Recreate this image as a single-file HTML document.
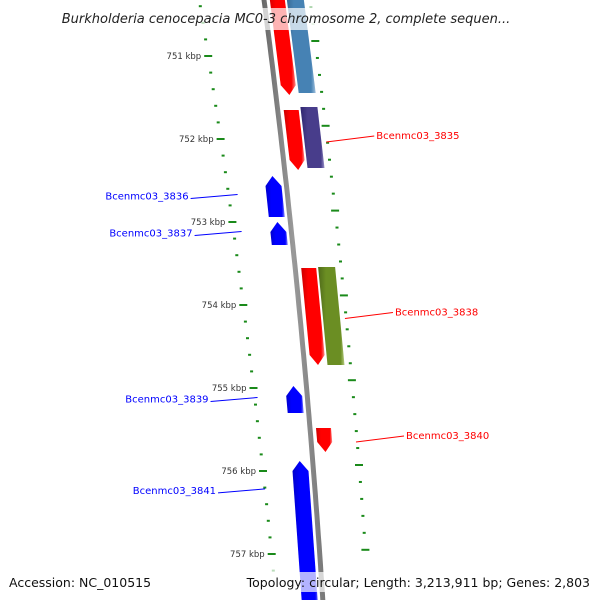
<!DOCTYPE html>
<html><head><meta charset="utf-8"><style>
html,body{margin:0;padding:0;background:#fff;}
svg{display:block;font-family:"DejaVu Sans","Liberation Sans",sans-serif;}
</style></head><body>
<svg id="map" width="600" height="600" viewBox="0 0 600 600" xmlns="http://www.w3.org/2000/svg">
<defs>
<linearGradient id="gr" x1="0" x2="1" y1="0" y2="0"><stop offset="0" stop-color="#c00"/><stop offset="0.3" stop-color="#f00"/><stop offset="0.85" stop-color="#f00"/><stop offset="1" stop-color="#f88"/></linearGradient>
<linearGradient id="gb" x1="0" x2="1" y1="0" y2="0"><stop offset="0" stop-color="#00c"/><stop offset="0.3" stop-color="#00f"/><stop offset="0.85" stop-color="#00f"/><stop offset="1" stop-color="#88f"/></linearGradient>
<linearGradient id="gs" x1="0" x2="1" y1="0" y2="0"><stop offset="0" stop-color="#36648b"/><stop offset="0.3" stop-color="#4682b4"/><stop offset="0.85" stop-color="#4682b4"/><stop offset="1" stop-color="#a0c0dd"/></linearGradient>
<linearGradient id="gp" x1="0" x2="1" y1="0" y2="0"><stop offset="0" stop-color="#2f2770"/><stop offset="0.3" stop-color="#483d8b"/><stop offset="0.85" stop-color="#483d8b"/><stop offset="1" stop-color="#9a92c8"/></linearGradient>
<linearGradient id="go" x1="0" x2="1" y1="0" y2="0"><stop offset="0" stop-color="#4f6a1a"/><stop offset="0.3" stop-color="#6b8e23"/><stop offset="0.85" stop-color="#6b8e23"/><stop offset="1" stop-color="#b5cc80"/></linearGradient>
<linearGradient id="gg" x1="0" x2="1" y1="0" y2="0"><stop offset="0" stop-color="#666"/><stop offset="0.5" stop-color="#999"/><stop offset="1" stop-color="#777"/></linearGradient>
</defs>
<g id="ticks"></g>
<g id="backbone"></g>
<g id="genes"></g>
<g id="labels"></g>
<rect x="55" y="8" width="460" height="22" fill="#fff" fill-opacity="0.7"/>
<text x="286" y="23" text-anchor="middle" font-size="13" font-style="italic" fill="#222">Burkholderia cenocepacia MC0-3 chromosome 2, complete sequen...</text>
<rect x="255" y="572" width="340" height="20" fill="#fff" fill-opacity="0.7"/>
<text x="9" y="587" font-size="12.5" fill="#111">Accession: NC_010515</text>
<text x="590" y="587" text-anchor="end" font-size="12.5" fill="#111">Topology: circular; Length: 3,213,911 bp; Genes: 2,803</text>
</svg>
<script>
// data (kbp)
const majorTicks = [751, 752, 753, 754, 755, 756, 757];
const tickLabels = ["751 kbp","752 kbp","753 kbp","754 kbp","755 kbp","756 kbp","757 kbp"];
const geneNames = ["g1","Bcenmc03_3835","Bcenmc03_3836","Bcenmc03_3837","Bcenmc03_3838","Bcenmc03_3839","Bcenmc03_3840","Bcenmc03_3841"];
const geneStarts = [750.10, 751.651, 752.446, 753.000, 753.554, 754.976, 755.482, 755.880];
const geneEnds   = [751.470, 752.373, 752.940, 753.277, 754.723, 755.301, 755.771, 757.80];
const geneStrand = [1, 1, -1, -1, 1, -1, 1, -1];
const cogStarts = [750.10, 751.614, 753.542];
const cogEnds   = [751.446, 752.349, 754.723];
const cogColors = ["gs", "gp", "go"];
const labeled = [false, true, true, true, true, true, true, true];

const NS='http://www.w3.org/2000/svg';
function Y(k){return 56+(k-751)*83;}
function bb(y){return 264+0.131*y-0.000055*y*y;}
function P(k,off){const y=Y(k);return [bb(y)+off,y];}
function el(tag,attrs,parent){const e=document.createElementNS(NS,tag);for(const a in attrs)e.setAttribute(a,attrs[a]);parent.appendChild(e);return e;}
const gT=document.getElementById('ticks'),gB=document.getElementById('backbone'),gG=document.getElementById('genes'),gL=document.getElementById('labels');

// backbone
let pts=[];for(let y=-5;y<=605;y+=10)pts.push([bb(y),y]);
let d=pts.map((p,i)=>(i?'L':'M')+(p[0]-2.5).toFixed(1)+','+p[1]).join(' ')+' '+pts.slice().reverse().map(p=>'L'+(p[0]+2.5).toFixed(1)+','+p[1]).join(' ')+'Z';
const bk=el('path',{d:d,fill:'url(#gg)'},gB);



// tick rings
function leftX(y){return bb(y)-63+15*(y-56)/498;}
function rightY(k){return 41+(k-751)*84.8;}
function rightX(y){return bb(y)+46;}
for(let i=0;i<=40;i++){
  const k=750.4+i*0.2; const major=Math.abs(k-Math.round(k))<0.01;
  const y=Y(k); if(y<5||y>575)continue;
  const x=leftX(y);
  const t=el('rect',{x:(major?x-4:x-1.5).toFixed(1),y:y-1,width:major?8:3,height:2,fill:'#1a8a1a',opacity:y>565?0.3:1},gT);
  
  
  const yr=rightY(k); if(yr<5||yr>565)continue;
  const xr=rightX(yr);
  const r=el('rect',{x:(major?xr-4:xr-1.5).toFixed(1),y:yr-1,width:major?8:3,height:2,fill:'#1a8a1a',opacity:(yr<32)?0.35:1},gT);
  
  
}
majorTicks.forEach((k,i)=>{
  const y=Y(k);const t=el('text',{x:(leftX(y)-7).toFixed(1),y:y+3,'text-anchor':'end','font-size':8.5,fill:'#333'},gT);
  t.textContent=tickLabels[i];
  
  
});

// genes
function arrowPath(s,e,o1,o2,strand){
  const h=0.12, m=(o1+o2)/2;
  let p;
  if(strand>0){p=[P(s,o1),P(s,o2),P(e-h,o2),P(e,m),P(e-h,o1)];}
  else{p=[P(e,o1),P(e,o2),P(s+h,o2),P(s,m),P(s+h,o1)];}
  return 'M'+p.map(q=>q[0].toFixed(1)+','+q[1].toFixed(1)).join(' L')+'Z';
}
function rectPath(s,e,o1,o2){
  const p=[P(s,o1),P(s,o2),P(e,o2),P(e,o1)];
  return 'M'+p.map(q=>q[0].toFixed(1)+','+q[1].toFixed(1)).join(' L')+'Z';
}
cogStarts.forEach((s,i)=>{
  const c=el('path',{d:rectPath(s,cogEnds[i],23,40),fill:'url(#'+cogColors[i]+')'},gG);
  
  
});
geneStarts.forEach((s,i)=>{
  const f=geneStrand[i]>0;
  const g=el('path',{d:arrowPath(s,geneEnds[i],f?6:-21,f?21:-5,geneStrand[i]),fill:f?'url(#gr)':'url(#gb)'},gG);
  
  
  if(!labeled[i])return;
  const mk=(s+Math.min(geneEnds[i],756.6))/2;
  const y=Y(Math.min(mk,756.6));
  const col=f?'#f00':'#00f';
  if(f){
    const x1=bb(y)+45, x2=x1+48;
    el('line',{x1:x1,y1:y+2,x2:x2,y2:y-4,stroke:col,'stroke-width':1},gL);
    const t=el('text',{x:x2+2,y:y-1,'font-size':10,fill:col},gL);t.textContent=geneNames[i];
    
    
  }else{
    const x2=bb(y)-50, x1=x2-47;
    el('line',{x1:x1,y1:y+2,x2:x2,y2:y-2,stroke:col,'stroke-width':1},gL);
    const t=el('text',{x:x1-2,y:y+3,'text-anchor':'end','font-size':10,fill:col},gL);t.textContent=geneNames[i];
    
    
  }
});
</script>
</body></html>
